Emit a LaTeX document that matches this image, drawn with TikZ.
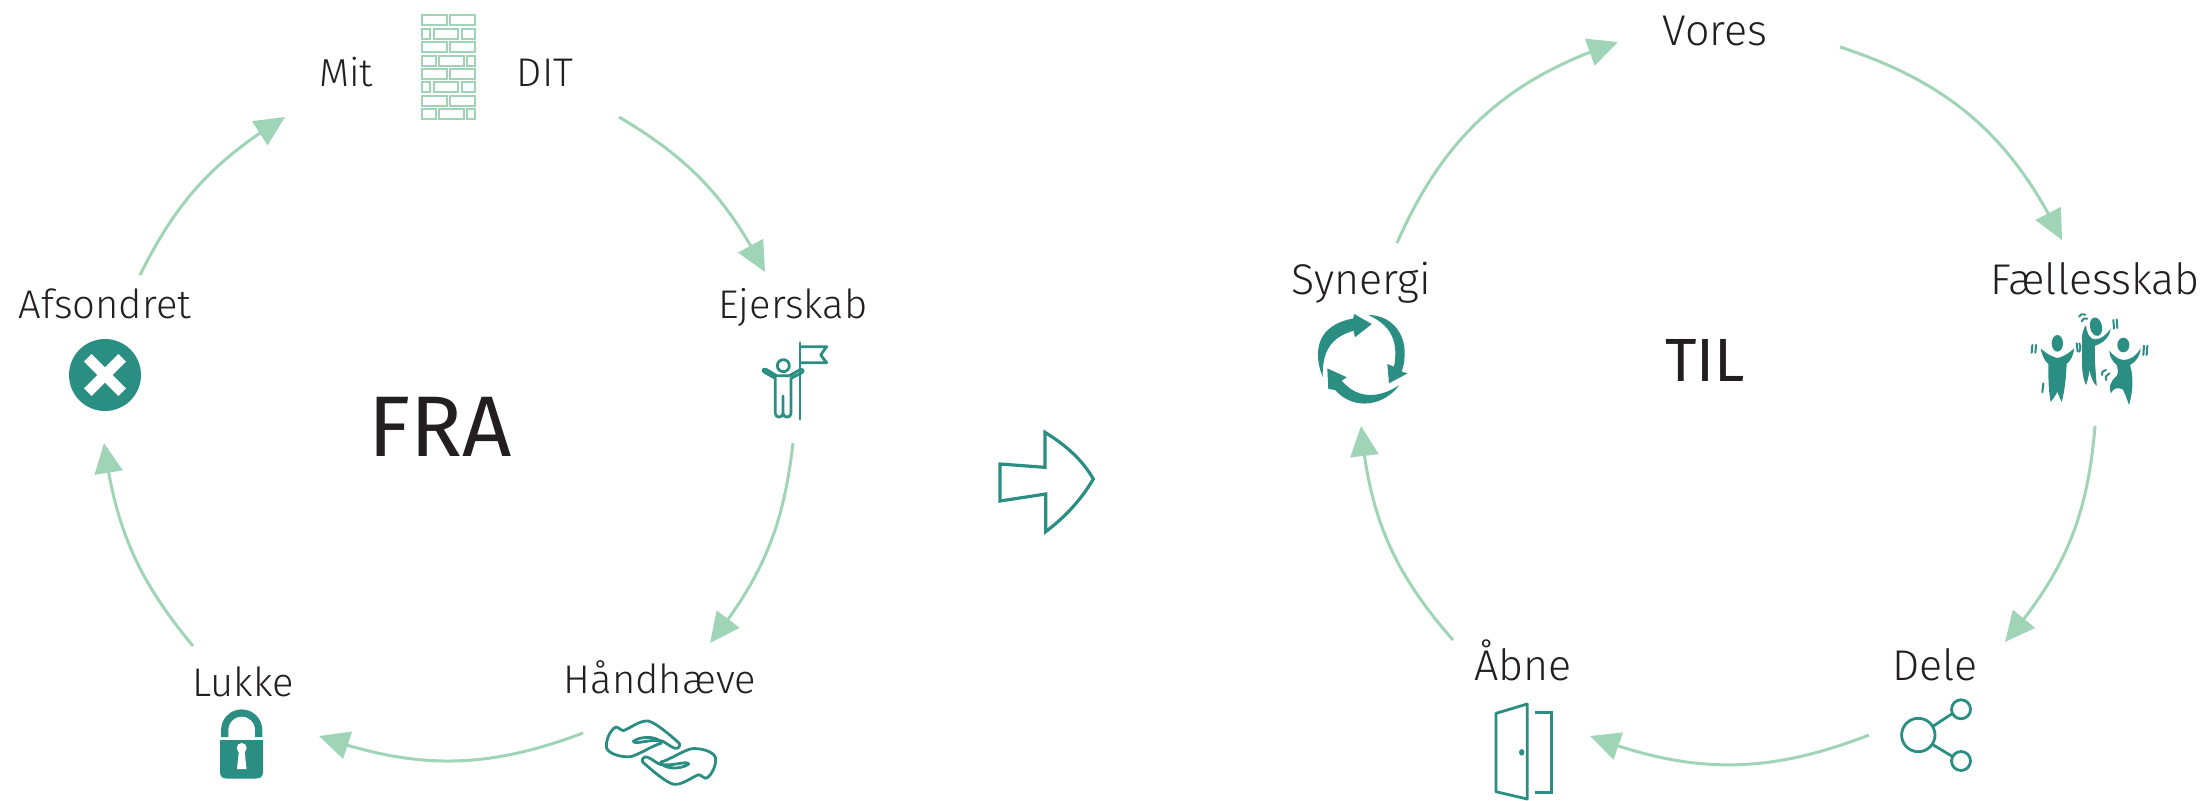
\documentclass[tikz,border=0pt]{standalone}
\usepackage{fontspec}
\setmainfont{Fira Sans}[UprightFont=* Light]
\newfontfamily\bigfont{Fira Sans}
\usetikzlibrary{arrows.meta,bending}
\definecolor{mint}{HTML}{9FD4B7}
\definecolor{teal1}{HTML}{2B8E82}
\definecolor{ink}{HTML}{231F20}
\tikzset{
 lab/.style={font=\fontsize{20}{22}\selectfont,text=ink,inner sep=0pt,anchor=base},
 labr/.style={font=\fontsize{21.5}{24}\selectfont,text=ink,inner sep=0pt,anchor=base},
 big/.style={font=\bigfont\fontsize{43}{48}\selectfont,text=ink,inner sep=0pt,anchor=base},
 flow/.style={draw=mint,line width=1.5pt,-{Triangle[length=15pt,width=14pt,flex]}},
 ico/.style={draw=teal1,line width=1.4pt,line join=round,line cap=round},
 tick/.style={draw=teal1,line width=1pt,line cap=round},
 brick/.style={draw=mint,line width=1pt},
}
\begin{document}
\begin{tikzpicture}[x=0.5pt,y=-0.5pt]
\useasboundingbox (0,0) rectangle (2212,800);
% labels
\node[lab,font=\fontsize{19.5}{22}\selectfont] (mit) at (346,86) {Mit};
\node[lab] (dit) at (545,86) {DIT};
\node[lab] (ej) at (793,318) {Ejerskab};
\node[lab] (hand) at (660,693) {Håndhæve};
\node[lab] (luk) at (243,696) {Lukke};
\node[lab] (afs) at (105,318) {Afsondret};
\node[big] (fra) at (440,456) {FRA};
\node[labr] (vor) at (1715,45) {Vores};
\node[labr] (fae) at (2095,294) {Fællesskab};
\node[big,font=\bigfont\fontsize{30.5}{34}\selectfont] (til) at (1705,381) {TIL};
\node[labr] (del) at (1935,680) {Dele};
\node[labr] (abn) at (1523,680) {Åbne};
\node[labr] (syn) at (1361,294) {Synergi};
% connector ends
\coordinate (a1) at (619,117); \coordinate (a2) at (765,272);
\coordinate (b1) at (793,443); \coordinate (b2) at (710,643);
\coordinate (c1) at (583,733); \coordinate (c2) at (319,736);
\coordinate (d1) at (193,646); \coordinate (d2) at (104,443);
\coordinate (e1) at (140,275); \coordinate (e2) at (285,117);
\coordinate (f1) at (1840,47); \coordinate (f2) at (2062,240);
\coordinate (g1) at (2095,426); \coordinate (g2) at (2005,642);
\coordinate (h1) at (1869,735); \coordinate (h2) at (1590,736);
\coordinate (i1) at (1453,640); \coordinate (i2) at (1361,426);
\coordinate (j1) at (1397,243); \coordinate (j2) at (1618,42);
\draw[flow] (a1) to[bend left=16] (a2);
\draw[flow] (b1) to[bend left=16] (b2);
\draw[flow] (c1) to[bend left=20] (c2);
\draw[flow] (d1) to[bend left=16] (d2);
\draw[flow] (e1) to[bend left=16] (e2);
\draw[flow] (f1) to[bend left=23] (f2);
\draw[flow] (g1) to[bend left=18] (g2);
\draw[flow] (h1) to[bend left=21] (h2);
\draw[flow] (i1) to[bend left=18] (i2);
\draw[flow] (j1) to[bend left=24] (j2);
% wall
\begin{scope}[shift={(300,0)},scale=1/3]
 \foreach \y in {45,127,207,287}{
  \draw[brick] (366,\y) rectangle (442,\y+30);
  \draw[brick] (451,\y) rectangle (525,\y+30);}
 \foreach \y in {87,247}{
  \draw[brick] (367,\y) rectangle (391,\y+30);
  \draw[brick] (401,\y) rectangle (475,\y+30);
  \draw[brick] (485,\y) rectangle (525,\y+30);}
 \foreach \y in {167,327}{
  \draw[brick] (367,\y) rectangle (407,\y+30);
  \draw[brick] (417,\y) rectangle (491,\y+30);
  \draw[brick] (501,\y) rectangle (525,\y+30);}
\end{scope}
% flag person
\begin{scope}[shift={(730,330)},scale=1/3]
 \draw[ico] (210,38) -- (210,268);
 \draw[ico] (210,50) -- (290,50) -- (272,75) -- (290,98) -- (210,98);
 \draw[ico] (160,107) circle (18);
 \draw[ico] (136,145) -- (104,127) .. controls (96,122) and (98,116) .. (108,118) -- (140,137) -- (178,137) -- (212,118) .. controls (222,118) and (222,126) .. (212,130) -- (183,145) -- (183,250) .. controls (183,265) and (160,265) .. (159,250) -- (159,198) -- (159,250) .. controls (158,265) and (136,265) .. (136,250) -- cycle;
\end{scope}
% hands
\begin{scope}[shift={(580,700)},scale=1/3]
 \foreach \r in {0,180}{
 \begin{scope}[rotate around={\r:(243,158)}]
 \draw[ico] (298,130) .. controls (270,105) and (230,70) .. (205,63) .. controls (180,60) and (150,85) .. (130,92) .. controls (120,90) and (112,78) .. (106,82) .. controls (90,90) and (75,125) .. (80,145) .. controls (90,165) and (130,172) .. (150,170) .. controls (170,168) and (220,135) .. (243,130) .. controls (240,110) and (185,105) .. (160,124) .. controls (165,135) and (200,118) .. (243,122)  .. controls (255,125) and (270,140) .. (285,145) .. controls (295,147) and (302,138) .. (298,130) -- cycle;
 \end{scope}}
\end{scope}
% lock
\begin{scope}
 \draw[teal1,line width=3.6pt] (224.7,737) -- (224.7,730) arc (180:360:17) -- (258.7,737);
 \fill[teal1] (220,740) -- (263,740) -- (263,772) .. controls (263,777) and (260,778.5) .. (256,778.5) -- (227,778.5) .. controls (223,778.5) and (220,777) .. (220,772) -- cycle;
 \fill[white] (241.7,748) circle (5) ;
 \fill[white] (239,750) -- (244.5,750) -- (246.5,769) -- (237,769) -- cycle;
\end{scope}
% x
\fill[teal1] (105,375) circle (36);
\fill[white,shift={(105,375)}] (-13.3,-21) -- (0,-7.7) -- (13.3,-21) -- (21,-13.3) -- (7.7,0) -- (21,13.3) -- (13.3,21) -- (0,7.7) -- (-13.3,21) -- (-21,13.3) -- (-7.7,0) -- (-21,-13.3) -- cycle;
% block arrow
\begin{scope}[shift={(980,415)},scale=1/3]
 \draw[draw=teal1,line width=1.6pt,miter limit=10] (60,147) -- (195,157) -- (195,52) .. controls (265,95) and (310,140) .. (340,192) .. controls (300,260) and (250,310) .. (197,350) -- (197,237) -- (60,258) -- cycle;
\end{scope}
% synergy
\fill[teal1] (1322.7,377.3) .. controls (1312,350) and (1318,325) .. (1353,318.5) -- (1354.3,314) -- (1371.7,324) -- (1355,337.3) -- (1353.5,330.7) .. controls (1332,337) and (1322,350) .. cycle;
\fill[teal1] (1368.3,315) .. controls (1395,315) and (1412,340) .. (1401.7,371.7) -- (1407.7,373.3) -- (1389,383.3) -- (1387.3,364) -- (1394,366.7) .. controls (1399,340) and (1390,325) .. cycle;
\fill[teal1] (1399.3,385) .. controls (1385,405) and (1355,412) .. (1335,390) -- (1328.3,389) -- (1327.3,368.3) -- (1346.7,377.3) -- (1341.7,380.7) .. controls (1358,400) and (1380,398) .. cycle;
% people
\begin{scope}[shift={(1980,280)},scale=1/3]
 \fill[teal1] (232,190) ellipse (17 and 25);
 \fill[teal1] (182,205) .. controls (200,222) and (220,232) .. (232,234) .. controls (245,232) and (265,222) .. (282,205) .. controls (282,225) and (270,245) .. (260,252) .. controls (258,290) and (255,330) .. (245,366) .. controls (240,355) and (235,345) .. (232,335) .. controls (228,345) and (220,355) .. (212,366) .. controls (205,330) and (205,290) .. (205,252) .. controls (195,245) and (185,225) .. (182,205) -- cycle;
 \fill[teal1,rotate around={12:(348,140)}] (348,140) ellipse (18 and 28);
 \fill[teal1] (318,135) .. controls (320,160) and (330,178) .. (345,178) .. controls (362,178) and (380,165) .. (392,145) .. controls (390,170) and (370,190) .. (345,197) .. controls (342,230) and (348,280) .. (350,318) .. controls (340,310) and (332,290) .. (328,270) .. controls (326,290) and (322,305) .. (318,315) .. controls (310,300) and (305,270) .. (306,240) .. controls (305,220) and (308,200) .. (306,185) .. controls (304,165) and (310,145) .. (318,135) -- cycle;
 \fill[teal1] (430,195) ellipse (18 and 22);
 \fill[teal1] (388,212) .. controls (400,228) and (418,240) .. (432,240) .. controls (450,240) and (472,225) .. (482,205) .. controls (480,230) and (465,248) .. (450,255) .. controls (462,290) and (458,340) .. (447,375) .. controls (440,355) and (435,340) .. (428,328) .. controls (415,322) and (400,322) .. (393,340) .. controls (385,325) and (390,305) .. (408,290) .. controls (418,280) and (412,262) .. (410,255) .. controls (398,245) and (388,230) .. (388,212) -- cycle;
 \draw[tick] (157,195) -- (155,218);
 \draw[tick] (168,195) -- (166,218);
 \draw[tick] (290,190) -- (293,215);
 \draw[tick] (298,190) .. controls (302,200) .. (298,215);
 \draw[tick] (190,310) -- (187,337);
 \draw[tick] (297,110) .. controls (303,102) .. (316,104);
 \draw[tick] (305,124) .. controls (310,115) .. (322,116);
 \draw[tick] (400,120) -- (402,146);
 \draw[tick] (410,118) -- (412,144);
 \draw[tick] (366,285) .. controls (366,275) .. (378,270);
 \draw[tick] (378,300) .. controls (376,290) .. (388,280);
 \draw[tick] (492,197) -- (490,225);
 \draw[tick] (502,197) -- (500,225);
\end{scope}
% share
\draw[ico] (1918.3,735) circle (16.7);
\draw[ico] (1961,709.3) circle (9.5);
\draw[ico] (1961,761) circle (9.5);
\draw[ico] (1933.3,726) -- (1951.7,714);
\draw[ico] (1933.3,745) -- (1951.7,756);
% door
\draw[ico,line cap=butt] (1496,713.3) -- (1527.3,704) -- (1527.3,799) -- (1496,791.7) -- cycle;
\fill[teal1] (1521.7,752.3) ellipse (2.7 and 3.3);
\draw[ico,line cap=butt,line join=miter] (1535,712.3) -- (1551.7,712.3) -- (1551.7,792.3) -- (1535,792.3);
\end{tikzpicture}
\end{document}
